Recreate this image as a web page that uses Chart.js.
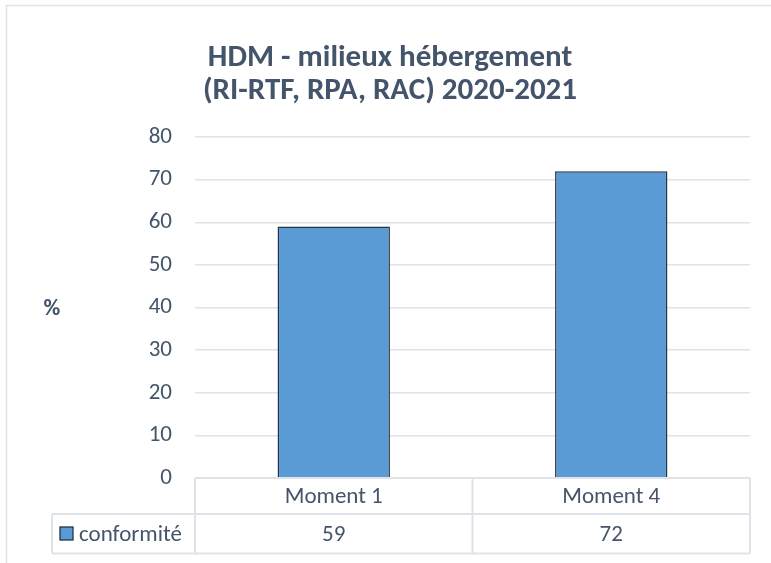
<!DOCTYPE html>
<html>
<head>
<meta charset="utf-8">
<script src="https://cdn.jsdelivr.net/npm/chart.js@4/dist/chart.umd.min.js"></script>
<style>
  html, body { margin: 0; padding: 0; background: #fff; }
  #wrap { width: 771px; height: 563px; }
</style>
</head>
<body>
<div id="wrap"><canvas id="hdmChart" width="771" height="563"></canvas></div>
<script>
const categories = ['Moment 1', 'Moment 4'];
const conformite = [59, 72];
const seriesName = 'conformité';
const titleLines = ['HDM - milieux hébergement', '(RI-RTF, RPA, RAC) 2020-2021'];
const yTitle = '%';
const yMin = 0, yMax = 80, yStep = 10;

const textColor = '#44546a';
const lineColor = '#dfe3e8';
const barColor = '#5b9bd5';
const font = "Carlito, Lato, 'Open Sans', sans-serif";
const textSize = 23;

// bordure du cadre + tableau de données sous le graphe
const tablePlugin = {
  id: 'dataTable',
  beforeDraw(chart) {
    const ctx = chart.ctx;
    ctx.save();
    ctx.strokeStyle = lineColor;
    ctx.lineWidth = 1.5;
    ctx.beginPath();
    ctx.moveTo(6.5, 563);
    ctx.lineTo(6.5, 5.5);
    ctx.lineTo(771, 5.5);
    ctx.stroke();
    ctx.restore();
  },
  afterDraw(chart) {
    const ctx = chart.ctx;
    const area = chart.chartArea;
    const xs = chart.scales.x;
    const top = area.bottom, mid = 514, bottom = 553.5;
    const legendLeft = 52;
    const half = (xs.getPixelForValue(1) - xs.getPixelForValue(0)) / 2;

    ctx.save();
    ctx.strokeStyle = lineColor;
    ctx.lineWidth = 2;
    ctx.beginPath();
    ctx.moveTo(area.left, top); ctx.lineTo(area.right, top);
    ctx.moveTo(legendLeft, mid); ctx.lineTo(area.right, mid);
    ctx.moveTo(legendLeft, bottom); ctx.lineTo(area.right, bottom);
    ctx.moveTo(legendLeft, mid); ctx.lineTo(legendLeft, bottom);
    ctx.moveTo(area.left, top); ctx.lineTo(area.left, bottom);
    categories.forEach((c, i) => {
      const x = xs.getPixelForValue(i) + half;
      ctx.moveTo(x, top); ctx.lineTo(x, bottom);
    });
    ctx.stroke();

    ctx.fillStyle = textColor;
    ctx.font = textSize + 'px ' + font;
    ctx.textAlign = 'center';
    ctx.textBaseline = 'middle';
    categories.forEach((c, i) => {
      const x = xs.getPixelForValue(i);
      ctx.fillText(c, x, (top + mid) / 2 + 1);
      ctx.fillText(String(conformite[i]), x, (mid + bottom) / 2 + 1);
    });

    // clé de légende
    ctx.fillStyle = barColor;
    ctx.fillRect(60, 527, 13, 13);
    ctx.strokeStyle = '#253444';
    ctx.lineWidth = 1.3;
    ctx.strokeRect(60, 527, 13, 13);
    ctx.fillStyle = textColor;
    ctx.textAlign = 'left';
    ctx.fillText(seriesName, 79, (mid + bottom) / 2 + 1);

    // titre de l'axe
    ctx.font = 'bold ' + textSize + 'px ' + font;
    ctx.textAlign = 'center';
    ctx.fillText(yTitle, 52, 309);
    ctx.restore();
  }
};

new Chart(document.getElementById('hdmChart'), {
  type: 'bar',
  data: {
    labels: categories,
    datasets: [{
      label: seriesName,
      data: conformite,
      backgroundColor: barColor,
      borderColor: '#253444',
      borderWidth: 1.5,
      categoryPercentage: 0.405,
      barPercentage: 1
    }]
  },
  options: {
    responsive: false,
    animation: false,
    layout: { padding: { left: 30, right: 21, top: 0, bottom: 85 } },
    plugins: {
      legend: { display: false },
      tooltip: { enabled: false },
      title: {
        display: true,
        text: titleLines,
        color: textColor,
        font: { family: font, size: 31, weight: 'bold', lineHeight: 1.065 },
        padding: { top: 42, bottom: 29 }
      }
    },
    scales: {
      x: { display: false },
      y: {
        min: yMin,
        max: yMax,
        afterFit(scale) { scale.width = 165; },
        ticks: {
          stepSize: yStep,
          color: textColor,
          padding: 23,
          font: { family: font, size: textSize }
        },
        grid: { color: lineColor, lineWidth: 1.5, drawTicks: false },
        border: { display: false }
      }
    }
  },
  plugins: [tablePlugin]
});
</script>
</body>
</html>
